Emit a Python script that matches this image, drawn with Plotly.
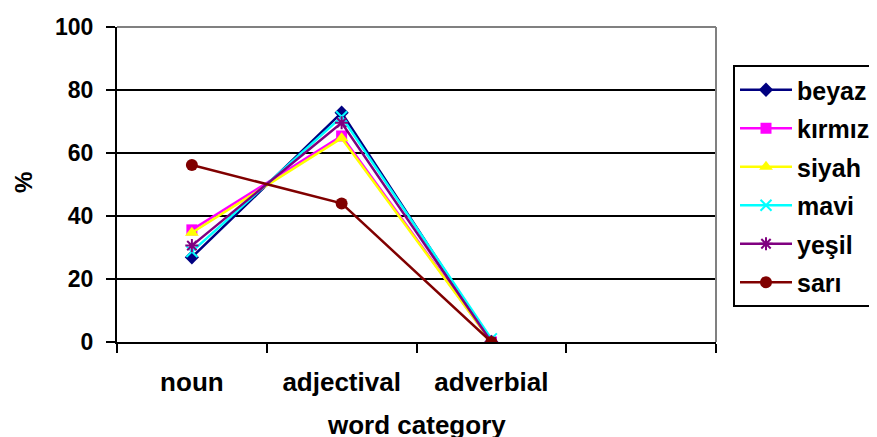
import plotly.graph_objects as go

categories = ["noun", "adjectival", "adverbial"]
n_slots = 4
series_names = ["beyaz", "kırmızı", "siyah", "mavi", "yeşil", "sarı"]
beyaz = [26.9, 72.8, 0]
kirmizi = [35.6, 65.4, 0]
siyah = [34.7, 64.7, 0]
mavi = [28.7, 71.5, 1]
yesil = [30.6, 69.6, 0]
sari = [56.2, 44.0, 0]
y_ticks = [0, 20, 40, 60, 80, 100]

values = [beyaz, kirmizi, siyah, mavi, yesil, sari]
colors = ["#000080", "#FF00FF", "#FFFF00", "#00FFFF", "#800080", "#800000"]
symbols = ["diamond", "square", "triangle-up", "x-thin-open", "asterisk-open", "circle"]
msizes = [11, 11, 12, 11, 11, 12]

xpos = [i + 0.5 for i in range(len(categories))]

fig = go.Figure()
for i, (name, vals) in enumerate(zip(series_names, values)):
    open_sym = symbols[i].endswith("open")
    fig.add_trace(go.Scatter(
        x=xpos, y=vals, name=name, mode="lines+markers",
        legendgroup=name,
        line=dict(color=colors[i], width=2.5),
        marker=dict(symbol=symbols[i], size=msizes[i], color=colors[i],
                    line=dict(color=colors[i], width=2 if open_sym else 0)),
    ))

font_family = "Liberation Sans, Arial, sans-serif"
W, H = 869, 429  # page body has an 8px margin
fig.update_layout(
    width=W, height=H,
    margin=dict(l=109, r=161, t=19, b=95, autoexpand=False),
    paper_bgcolor="white", plot_bgcolor="white",
    font=dict(family=font_family, size=24, color="black", weight="bold"),
    showlegend=True,
    legend=dict(
        xref="container", yref="container",
        x=(733 - 8) / W, y=1 - (65 - 8) / H, xanchor="left", yanchor="top",
        bordercolor="black", borderwidth=2, bgcolor="white",
        font=dict(size=25, family=font_family, color="black", weight="bold"),
        tracegroupgap=3, itemwidth=52, maxheight=400,
    ),
    xaxis=dict(
        range=[0, n_slots], showgrid=False, zeroline=False, automargin=False,
        showline=True, linecolor="black", linewidth=2,
        tickvals=xpos, ticktext=categories,
        ticks="", ticklabelstandoff=16,
        tickfont=dict(size=26, family=font_family, weight="bold"),
        minor=dict(tickvals=list(range(n_slots + 1)), ticks="outside",
                   ticklen=9, tickwidth=2, tickcolor="black", showgrid=False),
    ),
    yaxis=dict(
        range=[0, 100], tickvals=y_ticks, showgrid=True, gridcolor="black",
        gridwidth=2, zeroline=False, showline=True, linecolor="black",
        linewidth=2, ticks="outside", ticklen=9, tickwidth=2, tickcolor="black",
        tickfont=dict(size=23, family=font_family, weight="bold"),
        ticklabelstandoff=8, automargin=False,
    ),
    annotations=[
        dict(text="word category", xref="paper", yref="paper",
             x=0.5, y=-(425 - 342) / 315, xanchor="center",
             yanchor="middle", showarrow=False,
             font=dict(size=26, family=font_family, weight="bold")),
        dict(text="%", xref="paper", yref="paper",
             x=-(117 - 23) / 599, y=(342 - 183) / 315, xanchor="center",
             yanchor="middle", showarrow=False, textangle=-90,
             font=dict(size=24, family=font_family, weight="bold")),
    ],
    shapes=[
        dict(type="line", xref="paper", yref="paper", x0=0, x1=1, y0=1, y1=1,
             line=dict(color="#808080", width=2), layer="above"),
        dict(type="line", xref="paper", yref="paper", x0=1, x1=1, y0=0, y1=1,
             line=dict(color="#808080", width=2), layer="above"),
    ],
)

fig.write_html("out.html")
